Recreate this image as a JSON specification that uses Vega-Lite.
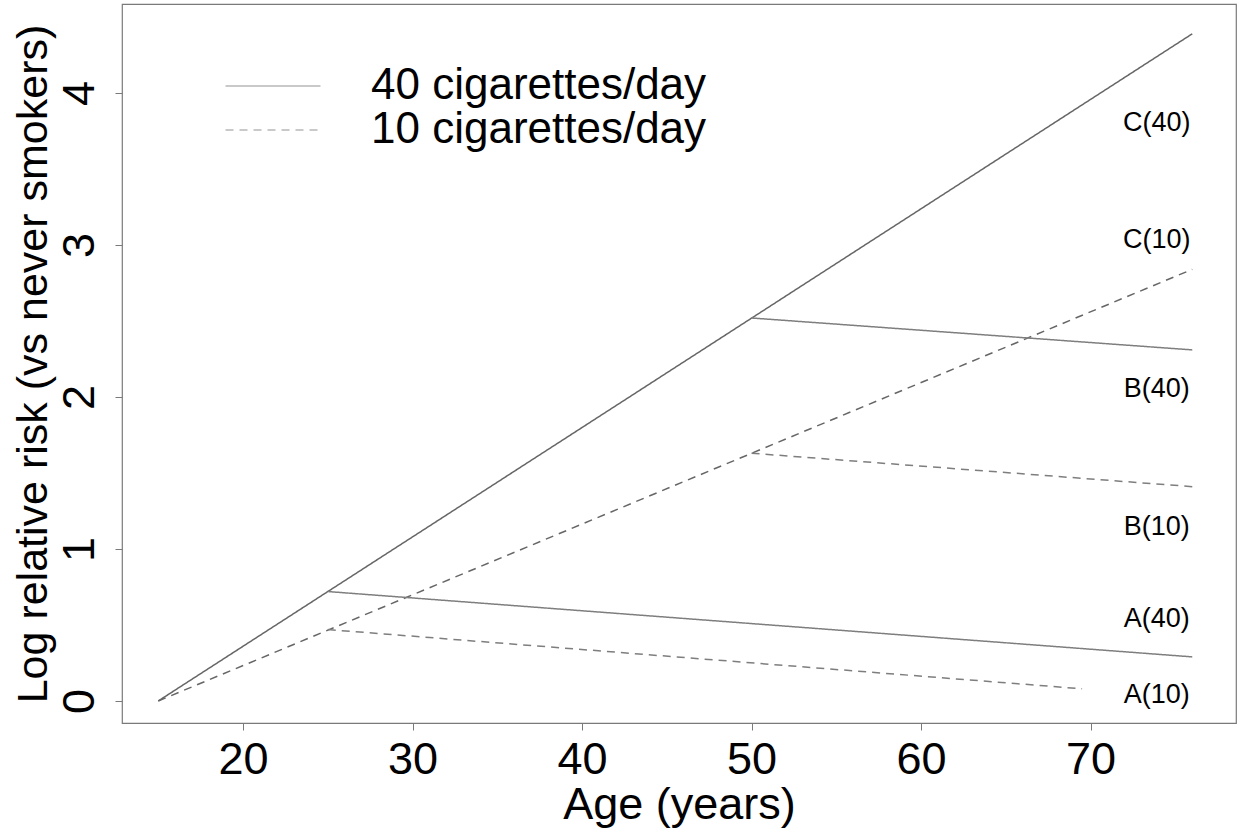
{
  "$schema": "https://vega.github.io/schema/vega-lite/v6.json",
  "width": 1114,
  "height": 719,
  "autosize": {"type": "none"},
  "padding": {"left": 122, "top": 4, "right": 9, "bottom": 109},
  "background": "white",
  "config": {
    "view": {"stroke": "#7a7a7a", "strokeWidth": 1.2},
    "font": "Liberation Sans",
    "axis": {"grid": false, "domain": false, "tickColor": "#7a7a7a", "tickSize": 7, "labelColor": "black", "titleColor": "black", "titleFontWeight": "normal", "labelFont": "Liberation Sans", "titleFont": "Liberation Sans"}
  },
  "datasets": {
    "lines": [
      {"series": "C40", "dose": "40 cigarettes/day", "shade": "main", "age": 15, "risk": 0},
      {"series": "C40", "dose": "40 cigarettes/day", "shade": "main", "age": 76, "risk": 4.39},
      {"series": "C10", "dose": "10 cigarettes/day", "shade": "main", "age": 15, "risk": 0},
      {"series": "C10", "dose": "10 cigarettes/day", "shade": "main", "age": 76, "risk": 2.84},
      {"series": "B40", "dose": "40 cigarettes/day", "shade": "quit", "age": 50, "risk": 2.52},
      {"series": "B40", "dose": "40 cigarettes/day", "shade": "quit", "age": 76, "risk": 2.31},
      {"series": "B10", "dose": "10 cigarettes/day", "shade": "quit", "age": 50, "risk": 1.63},
      {"series": "B10", "dose": "10 cigarettes/day", "shade": "quit", "age": 76, "risk": 1.41},
      {"series": "A40", "dose": "40 cigarettes/day", "shade": "quit", "age": 25, "risk": 0.72},
      {"series": "A40", "dose": "40 cigarettes/day", "shade": "quit", "age": 76, "risk": 0.29},
      {"series": "A10", "dose": "10 cigarettes/day", "shade": "quit", "age": 25, "risk": 0.47},
      {"series": "A10", "dose": "10 cigarettes/day", "shade": "quit", "age": 69.5, "risk": 0.08}
    ],
    "labels": [
      {"label": "C(40)", "age": 73.9, "risk": 3.8},
      {"label": "C(10)", "age": 73.9, "risk": 3.03},
      {"label": "B(40)", "age": 73.9, "risk": 2.05},
      {"label": "B(10)", "age": 73.9, "risk": 1.145},
      {"label": "A(40)", "age": 73.9, "risk": 0.54},
      {"label": "A(10)", "age": 73.9, "risk": 0.04}
    ]
  },
  "layer": [
    {
      "data": {"name": "lines"},
      "mark": {"type": "line", "strokeWidth": 1.5},
      "encoding": {
        "x": {"field": "age", "type": "quantitative", "scale": {"domain": [12.86, 78.58], "nice": false, "zero": false},
              "axis": {"values": [20, 30, 40, 50, 60, 70], "labelFontSize": 45, "labelPadding": 7, "title": "Age (years)", "titleFontSize": 45, "titlePadding": 0}},
        "y": {"field": "risk", "type": "quantitative", "scale": {"domain": [-0.145, 4.586], "nice": false, "zero": false},
              "axis": {"values": [0, 1, 2, 3, 4], "format": "d", "labelFontSize": 45, "labelAngle": -90, "labelAlign": "center", "labelBaseline": "alphabetic", "labelPadding": 22, "title": "Log relative risk (vs never smokers)", "titleFontSize": 43, "titlePadding": 2}},
        "detail": {"field": "series"},
        "strokeDash": {"field": "dose", "type": "nominal",
                       "scale": {"domain": ["40 cigarettes/day", "10 cigarettes/day"], "range": [[1, 0], [8, 6]]},
                       "legend": {"title": null, "orient": "none", "legendX": 129, "legendY": 60, "padding": 0,
                                  "symbolType": "M-4,0H4", "symbolSize": 564, "symbolStrokeColor": "#b8b8b8", "symbolStrokeWidth": 1.5,
                                  "labelFontSize": 44, "labelOffset": 76, "labelLimit": 0, "rowPadding": -5, "labelColor": "black", "labelFont": "Liberation Sans"}},
        "stroke": {"field": "shade", "type": "nominal", "scale": {"domain": ["main", "quit"], "range": ["#666666", "#7e7e7e"]}, "legend": null}
      }
    },
    {
      "data": {"name": "labels"},
      "mark": {"type": "text", "fontSize": 27, "align": "center", "baseline": "middle", "color": "black", "font": "Liberation Sans"},
      "encoding": {
        "x": {"field": "age", "type": "quantitative"},
        "y": {"field": "risk", "type": "quantitative"},
        "text": {"field": "label"}
      }
    }
  ]
}
